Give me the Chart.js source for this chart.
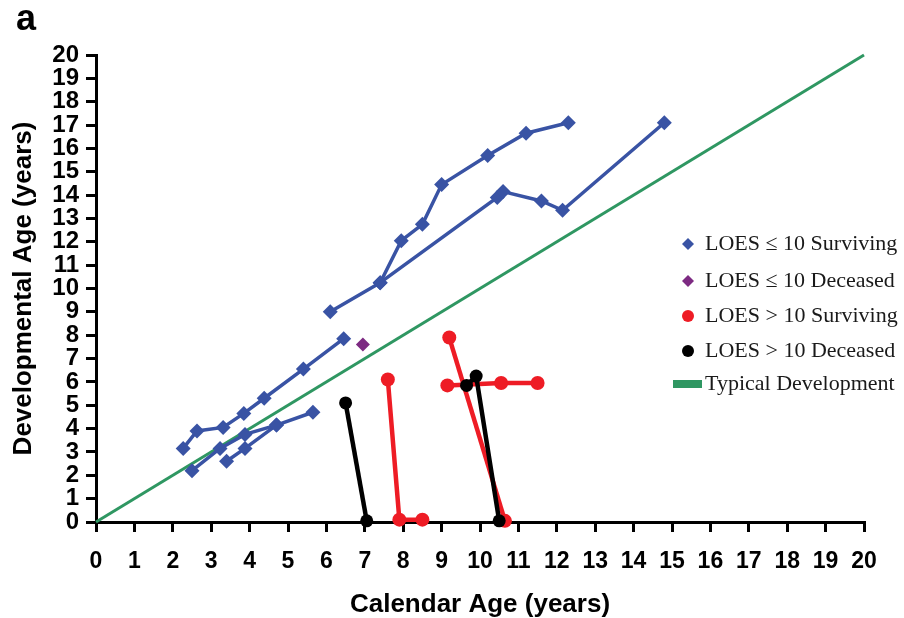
<!DOCTYPE html>
<html>
<head>
<meta charset="utf-8">
<script src="https://cdn.jsdelivr.net/npm/chart.js@4.4.1/dist/chart.umd.min.js"></script>
<style>
  html, body { margin: 0; padding: 0; background: #fff; }
  #wrap { position: relative; width: 904px; height: 618px; }
</style>
</head>
<body>
<div id="wrap"><canvas id="chart"></canvas></div>
<script>
// calendar age vs developmental age, one array per patient track
const loesLowSurviving = [
  [[6.1, 9.0], [7.4, 10.25], [7.95, 12.05], [8.5, 12.75], [9.0, 14.45], [10.2, 15.7], [11.2, 16.65], [12.3, 17.1]],
  [[7.4, 10.25], [10.45, 13.9], [10.6, 14.15], [11.6, 13.75], [12.15, 13.35], [14.8, 17.1]],
  [[2.27, 3.15], [2.63, 3.9], [3.31, 4.05], [3.85, 4.65], [4.38, 5.3], [5.4, 6.55], [6.45, 7.85]],
  [[2.5, 2.2], [3.23, 3.15], [3.88, 3.75], [4.7, 4.15], [5.65, 4.7]],
  [[3.4, 2.6], [3.88, 3.15], [4.7, 4.15]],
];
const loesLowDeceased = [
  [[6.95, 7.6]],
];
const loesHighSurviving = [
  [[7.6, 6.1], [7.9, 0.1], [8.5, 0.1]],
  [[9.2, 7.9], [10.65, 0.05]],
  [[9.15, 5.85], [10.55, 5.95], [11.5, 5.95]],
];
const loesHighDeceased = [
  [[6.5, 5.1], [7.05, 0.05]],
  [[9.65, 5.85], [9.9, 6.25], [10.5, 0.05]],
];
const typicalDevelopment = [[0, 0], [20, 20]];

const axisMin = 0;
const axisMax = 20;
const legendLabels = [
  "LOES \u2264 10 Surviving",
  "LOES \u2264 10 Deceased",
  "LOES > 10 Surviving",
  "LOES > 10 Deceased",
  "Typical Development",
];

const BLUE = "#3953a4";
const PURPLE = "#7d2a82";
const RED = "#ee1c25";
const BLACK = "#000000";
const GREEN = "#2f9762";

const toPoints = (pairs) => pairs.map(([x, y]) => ({ x, y }));

function trackDatasets(tracks, color, pointStyle, radius, lineWidth) {
  return tracks.map((track) => ({
    data: toPoints(track),
    showLine: true,
    borderColor: color,
    backgroundColor: color,
    borderWidth: lineWidth,
    pointStyle: pointStyle,
    pointRadius: radius,
    pointBorderWidth: 0,
    pointHoverRadius: radius,
    clip: 12,
  }));
}

// first dataset is painted last, so black ends up on top
const datasets = [
  ...trackDatasets(loesHighDeceased, BLACK, "circle", 6.5, 4.5),
  ...trackDatasets(loesHighSurviving, RED, "circle", 7, 4.5),
  ...trackDatasets(loesLowDeceased, PURPLE, "rectRot", 7, 3),
  ...trackDatasets(loesLowSurviving, BLUE, "rectRot", 7.5, 3.5),
  {
    data: toPoints(typicalDevelopment),
    showLine: true,
    borderColor: GREEN,
    borderWidth: 3,
    pointRadius: 0,
    clip: 4,
  },
];

const legendMarkers = [
  { color: BLUE, style: "diamond" },
  { color: PURPLE, style: "diamond" },
  { color: RED, style: "circle" },
  { color: BLACK, style: "circle" },
  { color: GREEN, style: "bar" },
];
const legendRows = [244, 281, 316, 351, 384];

const insideLegendPlugin = {
  id: "insideLegend",
  afterDraw(chart) {
    const context = chart.ctx;
    context.save();

    // panel letter
    context.fillStyle = "#000";
    context.font = "bold 36px 'Liberation Sans', Arial, sans-serif";
    context.textBaseline = "alphabetic";
    context.fillText("a", 16, 30);

    context.font = "22px 'Liberation Serif', 'Times New Roman', serif";
    context.textBaseline = "middle";

    legendLabels.forEach((label, index) => {
      const y = legendRows[index];
      const marker = legendMarkers[index];
      const markerX = 688;
      context.fillStyle = marker.color;

      if (marker.style === "diamond") {
        context.beginPath();
        context.moveTo(markerX, y - 6);
        context.lineTo(markerX + 6, y);
        context.lineTo(markerX, y + 6);
        context.lineTo(markerX - 6, y);
        context.closePath();
        context.fill();
      } else if (marker.style === "circle") {
        context.beginPath();
        context.arc(markerX, y, 6, 0, Math.PI * 2);
        context.fill();
      } else {
        context.fillRect(673, y - 4, 29, 8);
      }

      context.fillStyle = "#1a1a1a";
      context.fillText(label, 705, y);
    });

    context.restore();
  },
};

const tickFontY = { family: "'Liberation Sans', Arial, sans-serif", size: 24, weight: "bold" };
const tickFontX = { family: "'Liberation Sans', Arial, sans-serif", size: 23, weight: "bold" };
const titleFont = { family: "'Liberation Sans', Arial, sans-serif", size: 26, weight: "bold", lineHeight: 1.0 };

new Chart(document.getElementById("chart"), {
  type: "scatter",
  data: { datasets },
  plugins: [insideLegendPlugin],
  options: {
    responsive: true,
    maintainAspectRatio: false,
    animation: false,
    layout: { padding: { top: 55, right: 40, left: 0, bottom: 0 } },
    plugins: {
      legend: { display: false },
      tooltip: { enabled: false },
    },
    elements: { line: { tension: 0 } },
    scales: {
      x: {
        type: "linear",
        min: axisMin,
        max: axisMax,
        afterFit(scale) { scale.height = 96; },
        border: { color: "#000", width: 3 },
        grid: { drawOnChartArea: false, drawTicks: true, tickLength: 10, color: "#000", lineWidth: 3 },
        ticks: { stepSize: 1, autoSkip: false, maxRotation: 0, color: "#000", font: tickFontX, padding: 16 },
        title: { display: true, text: "Calendar Age (years)", color: "#000", font: titleFont, padding: { top: 0, bottom: 0 } },
      },
      y: {
        type: "linear",
        min: axisMin,
        max: axisMax,
        afterFit(scale) { scale.width = 96; },
        border: { color: "#000", width: 3 },
        grid: { drawOnChartArea: false, drawTicks: true, tickLength: 10, color: "#000", lineWidth: 3 },
        ticks: { stepSize: 1, autoSkip: false, color: "#000", font: tickFontY, padding: 7 },
        title: { display: true, text: "Developmental Age (years)", color: "#000", font: titleFont, padding: { top: 11, bottom: 0 } },
      },
    },
  },
});
</script>
</body>
</html>
